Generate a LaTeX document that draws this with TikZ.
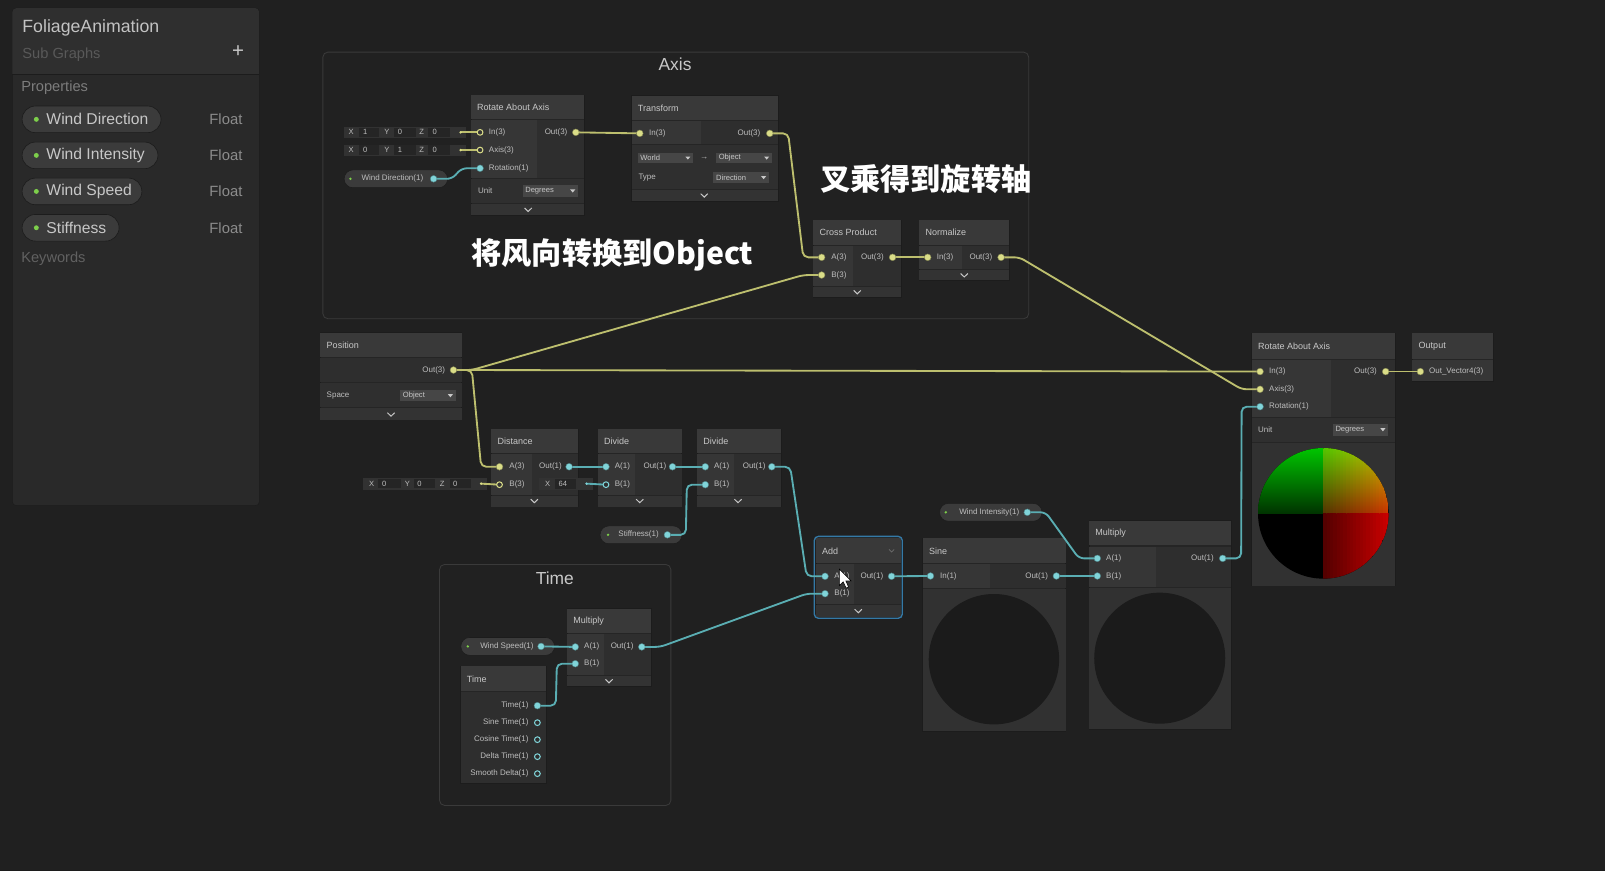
\documentclass[tikz,border=0pt]{standalone}
\usepackage{fontspec}
\setmainfont{Liberation Sans}
\newfontfamily\cjkfont{Noto Sans CJK SC}
\usetikzlibrary{calc}
\pgfdeclarelayer{back}
\pgfdeclarelayer{wire}
\pgfsetlayers{back,wire,main}
\definecolor{canvas}{HTML}{202020}
\definecolor{grpfill}{HTML}{212121}
\definecolor{grpline}{HTML}{3A3A3A}
\definecolor{panel}{HTML}{292929}
\definecolor{panelhdr}{HTML}{2F2F2F}
\definecolor{colbody}{HTML}{252525}
\definecolor{colline}{HTML}{1C1C1C}
\definecolor{hdrc}{HTML}{393939}
\definecolor{colin}{HTML}{363636}
\definecolor{colout}{HTML}{2E2E2E}
\definecolor{colctl}{HTML}{2F2F2F}
\definecolor{colbot}{HTML}{333333}
\definecolor{colprev}{HTML}{313131}
\definecolor{prevcirc}{HTML}{1B1B1B}
\definecolor{ddc}{HTML}{464646}
\definecolor{fieldc}{HTML}{252525}
\definecolor{ilc}{HTML}{323232}
\definecolor{pillc}{HTML}{3B3B3B}
\definecolor{txhead}{HTML}{C8C8C8}
\definecolor{txport}{HTML}{BEBEBE}
\definecolor{txdim}{HTML}{8C8C8C}
\definecolor{portY}{HTML}{DADD88}
\definecolor{portC}{HTML}{80D4D9}
\definecolor{wireY}{HTML}{BDBF6E}
\definecolor{wireC}{HTML}{5AAEB3}
\definecolor{greendot}{HTML}{7DCF4B}
\definecolor{selc}{HTML}{3479A6}
\definecolor{qgA}{rgb}{0,0.78,0}
\definecolor{qgB}{rgb}{0,0.2,0}
\tikzset{
  nbox/.style={fill=colbody, draw=colline, line width=0.5pt, inner sep=0, outer sep=0},
  grp/.style={fill=grpfill, draw=grpline, line width=0.8pt, rounded corners=5pt, inner sep=0},
  grptitle/.style={inner sep=0, text=txhead, font=\fontsize{17}{19}\selectfont},
  hdr/.style={anchor=west, inner sep=0, text=txhead, font=\fontsize{8.8}{10}\selectfont},
  lbl/.style={anchor=west, inner sep=0, text=txport, font=\fontsize{7.8}{9}\selectfont},
  lblr/.style={lbl, anchor=east},
  ddtext/.style={anchor=west, inner sep=0, text=txhead, font=\fontsize{7.4}{8}\selectfont},
  iltext/.style={inner sep=0, text=txport, font=\fontsize{7.4}{8}\selectfont},
  chevst/.style={draw=txhead, line width=1pt},
  pY/.style={circle, fill=portY, draw=portY!60!black, line width=0.4pt, minimum size=6.6pt, inner sep=0},
  pC/.style={pY, fill=portC, draw=portC!60!black},
  hY/.style={circle, draw=portY, fill=colin, line width=1pt, minimum size=5.6pt, inner sep=0},
  hC/.style={hY, draw=portC, fill=colout},
  dotY/.style={circle, fill=portY, minimum size=2.6pt, inner sep=0},
  dotC/.style={dotY, fill=portC},
  wY/.style={draw=wireY, line width=1.8pt, rounded corners=5pt},
  wC/.style={draw=wireC, line width=1.8pt, rounded corners=5pt},
  ulink/.style={to path={-- ++(18pt,0) -- ([xshift=-18pt]\tikztotarget) -- (\tikztotarget)}},
  gpill/.style={fill=pillc, draw=colline, line width=0.5pt, rounded corners=8.5pt, minimum height=17.4pt, inner sep=0, anchor=west},
  bbpill/.style={fill=pillc, draw=colline, line width=0.6pt, rounded corners=13pt, minimum height=26pt, inner sep=0, anchor=west},
  bbtext/.style={anchor=west, inner sep=0, text=txhead, font=\fontsize{15.3}{17}\selectfont},
  bbfloat/.style={anchor=east, inner sep=0, text=txdim, font=\fontsize{14.5}{16}\selectfont},
  bbdim/.style={anchor=west, inner sep=0, font=\fontsize{14.3}{16}\selectfont},
  cjkt/.style={anchor=west, inner sep=0, text=white, font=\cjkfont\fontsize{29.5}{32}\selectfont\bfseries},
}
\newcommand\ubox[5]{\node[nbox, anchor=north west, minimum width=#4pt, minimum height=#5pt] (#1) at (#2,#3) {};}
\newcommand\uhead[6]{%
  \fill[hdrc] (#2,#3) rectangle (#4,#5-0.5);
  \pgfmathsetmacro\hdy{(#3+#5)/2}%
  \node[hdr] (#1-t) at (#2+6,\hdy) {#6};}
\newcommand\dropd[6]{%
  \fill[ddc] (#2,#3) rectangle (#4,#5);
  \pgfmathsetmacro\ddy{(#3+#5)/2}%
  \node[ddtext] (#1) at (#2+2.5,\ddy) {#6};
  \fill[txhead] (#4-7.5,\ddy-1.4) -- (#4-2.5,\ddy-1.4) -- (#4-5,\ddy+1.6) -- cycle;}
\newcommand\chev[2]{\draw[chevst] (#1-3.5,#2-1.8) -- (#1,#2+1.6) -- (#1+3.5,#2-1.8);}
\begin{document}
\begin{tikzpicture}[x=1pt,y=-1pt]
\useasboundingbox (0,0) rectangle (1568,851);
\begin{pgfonlayer}{back}
\fill[canvas] (0,0) rectangle (1568,851);
\fill[colline] (0,849.8) rectangle (1568,851);
% ---------------- blackboard
\node[nbox, fill=panel, rounded corners=4pt, anchor=north west, minimum width=241.5pt, minimum height=486pt] (bb) at (12,8) {};
\begin{scope}
\clip[rounded corners=4pt] (12,8) rectangle (253.5,494);
\fill[panelhdr] (12,8) rectangle (253.5,72.3);
\end{scope}
\draw[colline, line width=0.8pt] (12,72.5) -- (253.5,72.5);
\node[anchor=west, inner sep=0, text=txhead!110, font=\fontsize{17.3}{19}\selectfont] (bb-title) at (21.7,27) {FoliageAnimation};
\node[bbdim, text=black!60!canvas!70!white] (bb-sub) at (21.7,53.7) {\textcolor[HTML]{595959}{Sub Graphs}};
\node[inner sep=0, text=txhead, font=\fontsize{20}{22}\selectfont] (bb-plus) at (232.5,50.5) {+};
\node[bbdim, text=txdim!85!canvas] (bb-prop) at (20.6,85.3) {Properties};
\node[bbpill, minimum width=135.7pt] (bbp1) at (21.3,116.6) {};
\node[bbpill, minimum width=132.7pt] (bbp2) at (21.3,151.8) {};
\node[bbpill, minimum width=117pt] (bbp3) at (21.3,187) {};
\node[bbpill, minimum width=94.7pt] (bbp4) at (21.3,222.5) {};
\foreach \yy in {116.6,151.8,187,222.5} {\fill[greendot] (35.5,\yy) circle (2.4pt);}
\node[bbtext] (bbt1) at (45.2,116.6) {Wind Direction};
\node[bbtext] (bbt2) at (45.2,151.8) {Wind Intensity};
\node[bbtext] (bbt3) at (45.2,187) {Wind Speed};
\node[bbtext] (bbt4) at (45.2,222.5) {Stiffness};
\node[bbfloat] (bbf1) at (237,116.6) {Float};
\node[bbfloat] (bbf2) at (237,151.8) {Float};
\node[bbfloat] (bbf3) at (237,187) {Float};
\node[bbfloat] (bbf4) at (237,222.5) {Float};
\node[bbdim, text=txdim!60!canvas] (bb-key) at (20.6,252.4) {Keywords};
% ---------------- groups
\node[grp, anchor=north west, minimum width=689.6pt, minimum height=260.5pt] (g-axis) at (315,50.5) {};
\node[grptitle] (g-axis-t) at (659.5,63) {Axis};
\node[grp, anchor=north west, minimum width=226pt, minimum height=235.5pt] (g-time) at (429,551) {};
\node[grptitle] (g-time-t) at (542,565) {Time};
% ---------------- Rotate About Axis (top)
\ubox{ra1}{460}{93}{111}{117}
\uhead{ra1}{460}{93}{571}{117}{Rotate About Axis}
\fill[colin] (460,117.5) rectangle (524.5,174);
\fill[colout] (524.5,117.5) rectangle (571,174);
\fill[colctl] (460,175) rectangle (571,198);
\fill[colbot] (460,199) rectangle (571,210);
\node[lbl] (ra1-unit) at (467,186.6) {Unit};
\dropd{ra1-dd}{510.5}{181}{564.5}{192}{Degrees}
\chev{516}{205}
\node[lbl] (ra1-l1) at (477.5,129.3) {In(3)};
\node[lbl] (ra1-l2) at (477.5,146.8) {Axis(3)};
\node[lbl] (ra1-l3) at (477.5,164.4) {Rotation(1)};
\node[lblr] (ra1-l4) at (554.5,129.3) {Out(3)};
% inline inputs
\fill[ilc] (336,124) rectangle (455.5,135);
\fill[ilc] (336,141.2) rectangle (455.5,152.2);
\foreach \yy in {129.3,146.6} {
  \fill[fieldc] (350.5,\yy-4.5) rectangle (370,\yy+4.5);
  \fill[fieldc] (384.5,\yy-4.5) rectangle (406,\yy+4.5);
  \fill[fieldc] (418.5,\yy-4.5) rectangle (440,\yy+4.5);
}
\node[iltext] (il1-x) at (343,129.3) {X};
\node[iltext] (il1-y) at (378,129.3) {Y};
\node[iltext] (il1-z) at (412,129.3) {Z};
\node[iltext, anchor=west] (il1-vx) at (354.5,129.3) {1};
\node[iltext, anchor=west] (il1-vy) at (388.5,129.3) {0};
\node[iltext, anchor=west] (il1-vz) at (422.5,129.3) {0};
\node[iltext] (il2-x) at (343,146.6) {X};
\node[iltext] (il2-y) at (378,146.6) {Y};
\node[iltext] (il2-z) at (412,146.6) {Z};
\node[iltext, anchor=west] (il2-vx) at (354.5,146.6) {0};
\node[iltext, anchor=west] (il2-vy) at (388.5,146.6) {1};
\node[iltext, anchor=west] (il2-vz) at (422.5,146.6) {0};
% ---------------- Transform
\ubox{tf}{617}{93.5}{143}{103}
\uhead{tf}{617}{93.5}{760}{118}{Transform}
\fill[colin] (617,118.5) rectangle (685,140.5);
\fill[colout] (685,118.5) rectangle (760,140.5);
\fill[colctl] (617,141.5) rectangle (760,185);
\fill[colbot] (617,186) rectangle (760,196.5);
\dropd{tf-dd1}{623}{149}{677}{159.6}{World}
\node[inner sep=0, text=txport, font=\fontsize{8}{9}\selectfont] (tf-arr) at (688,154.4) {→};
\dropd{tf-dd2}{699.5}{149}{754}{159.6}{Object}
\node[lbl] (tf-type) at (623.6,173.2) {Type};
\dropd{tf-dd3}{697}{168}{751}{179}{Direction}
\chev{688}{191}
\node[lbl] (tf-l1) at (634,130.3) {In(3)};
\node[lblr] (tf-l2) at (743,130.3) {Out(3)};
% ---------------- Cross Product
\ubox{cp}{794.6}{215}{85.7}{75.5}
\uhead{cp}{794.6}{215}{880.3}{239.4}{Cross Product}
\fill[colin] (794.6,239.9) rectangle (833.6,279.4);
\fill[colout] (833.6,239.9) rectangle (880.3,279.4);
\fill[colbot] (794.6,280.4) rectangle (880.3,290.5);
\chev{837.5}{285.5}
\node[lbl] (cp-l1) at (812,251.4) {A(3)};
\node[lbl] (cp-l2) at (812,268.7) {B(3)};
\node[lblr] (cp-l3) at (863.5,251.4) {Out(3)};
% ---------------- Normalize
\ubox{nm}{898}{215}{87.7}{59}
\uhead{nm}{898}{215}{985.7}{239.4}{Normalize}
\fill[colin] (898,239.9) rectangle (939.5,263);
\fill[colout] (939.5,239.9) rectangle (985.7,263);
\fill[colbot] (898,264) rectangle (985.7,274);
\chev{942}{269}
\node[lbl] (nm-l1) at (915,251.4) {In(3)};
\node[lblr] (nm-l2) at (969.5,251.4) {Out(3)};
% ---------------- Position
\ubox{pos}{313}{325}{138}{85}
\uhead{pos}{313}{325}{451}{349}{Position}
\fill[colout] (313,349.5) rectangle (451,373.5);
\fill[colctl] (313,374.5) rectangle (451,398);
\fill[colbot] (313,399) rectangle (451,410);
\node[lbl] (pos-space) at (319,386) {Space};
\dropd{pos-dd}{391}{381}{445}{392}{Object}
\chev{382}{405}
\node[lblr] (pos-l1) at (435,361.5) {Out(3)};
% ---------------- Distance
\ubox{dist}{480}{419}{85}{76}
\uhead{dist}{480}{419}{565}{443}{Distance}
\fill[colin] (480,443.5) rectangle (520,483.5);
\fill[colout] (520,443.5) rectangle (565,483.5);
\fill[colbot] (480,484.5) rectangle (565,495);
\chev{522}{489.5}
\node[lbl] (dist-l1) at (497.5,456) {A(3)};
\node[lbl] (dist-l2) at (497.5,473.5) {B(3)};
\node[lblr] (dist-l3) at (549,456) {Out(1)};
\fill[ilc] (355,466.5) rectangle (476,478.5);
\fill[fieldc] (369.5,468) rectangle (392,477);
\fill[fieldc] (404.5,468) rectangle (425,477);
\fill[fieldc] (439.5,468) rectangle (460,477);
\node[iltext] (il3-x) at (363,472.5) {X};
\node[iltext] (il3-y) at (398,472.5) {Y};
\node[iltext] (il3-z) at (432,472.5) {Z};
\node[iltext, anchor=west] (il3-vx) at (373,472.5) {0};
\node[iltext, anchor=west] (il3-vy) at (407.5,472.5) {0};
\node[iltext, anchor=west] (il3-vz) at (442.5,472.5) {0};
% ---------------- Divide 1
\ubox{div1}{584}{419}{82}{76}
\uhead{div1}{584}{419}{666}{443}{Divide}
\fill[colin] (584,443.5) rectangle (620,483.5);
\fill[colout] (620,443.5) rectangle (666,483.5);
\fill[colbot] (584,484.5) rectangle (666,495);
\chev{625}{489.5}
\node[lbl] (div1-l1) at (600.5,456) {A(1)};
\node[lbl] (div1-l2) at (600.5,473.5) {B(1)};
\node[lblr] (div1-l3) at (651,456) {Out(1)};
\fill[ilc] (527,466.5) rectangle (579,479);
\fill[fieldc] (542.5,468) rectangle (563,477.5);
\node[iltext] (il4-x) at (535,472.5) {X};
\node[iltext, anchor=west] (il4-v) at (545.5,472.5) {64};
% ---------------- Divide 2
\ubox{div2}{681}{419}{82}{76}
\uhead{div2}{681}{419}{763}{443}{Divide}
\fill[colin] (681,443.5) rectangle (717,483.5);
\fill[colout] (717,443.5) rectangle (763,483.5);
\fill[colbot] (681,484.5) rectangle (763,495);
\chev{721}{489.5}
\node[lbl] (div2-l1) at (697.5,456) {A(1)};
\node[lbl] (div2-l2) at (697.5,473.5) {B(1)};
\node[lblr] (div2-l3) at (748,456) {Out(1)};
% ---------------- Add
\ubox{add}{797}{525.7}{83}{76.8}
\uhead{add}{797}{525.7}{880}{550.7}{Add}
\fill[colin] (797,551.2) rectangle (834,590.5);
\fill[colout] (834,551.2) rectangle (880,590.5);
\fill[colbot] (797,591.5) rectangle (880,602.5);
\chev{838.5}{597}
\draw[draw=txdim!70!canvas, line width=0.7pt] (868.5,536.8) -- (871,539.3) -- (873.5,536.8);
\draw[selc, line width=1.3pt, rounded corners=4pt] (795.5,524) rectangle (881.5,604);
\node[lbl] (add-l1) at (815,563) {A(1)};
\node[lbl] (add-l2) at (815,580) {B(1)};
\node[lblr] (add-l3) at (863,563) {Out(1)};
% ---------------- Sine
\ubox{sine}{901.4}{526}{139.6}{188}
\uhead{sine}{901.4}{526}{1041}{550.4}{Sine}
\fill[colin] (901.4,550.9) rectangle (967,574);
\fill[colout] (967,550.9) rectangle (1041,574);
\fill[colprev] (901.4,575) rectangle (1041,714);
\fill[prevcirc] (971,644) circle (63.7pt);
\node[lbl] (sine-l1) at (918.3,562.7) {In(1)};
\node[lblr] (sine-l2) at (1024,562.7) {Out(1)};
% ---------------- Multiply (right)
\ubox{mul2}{1064}{508.7}{139}{203.8}
\uhead{mul2}{1064}{508.7}{1203}{533.4}{Multiply}
\fill[colin] (1064,533.9) rectangle (1129.7,573);
\fill[colout] (1129.7,533.9) rectangle (1203,573);
\fill[colprev] (1064,574) rectangle (1203,712.5);
\fill[prevcirc] (1133,643) circle (64pt);
\node[lbl] (mul2-l1) at (1080.5,545.5) {A(1)};
\node[lbl] (mul2-l2) at (1080.5,562.7) {B(1)};
\node[lblr] (mul2-l3) at (1186,545.5) {Out(1)};
% ---------------- Rotate About Axis (right)
\ubox{ra2}{1222.8}{325.6}{140.1}{246.4}
\uhead{ra2}{1222.8}{325.6}{1362.9}{351}{Rotate About Axis}
\fill[colin] (1222.8,351.5) rectangle (1300,407);
\fill[colout] (1300,351.5) rectangle (1362.9,407);
\fill[colctl] (1222.8,408) rectangle (1362.9,432);
\fill[colprev] (1222.8,433) rectangle (1362.9,572);
\node[lbl] (ra2-unit) at (1229,420) {Unit};
\dropd{ra2-dd}{1302}{414}{1356}{425.5}{Degrees}
\node[lbl] (ra2-l1) at (1239.7,363) {In(3)};
\node[lbl] (ra2-l2) at (1239.7,380.3) {Axis(3)};
\node[lbl] (ra2-l3) at (1239.7,397.3) {Rotation(1)};
\node[lblr] (ra2-l4) at (1345.3,363) {Out(3)};
\begin{scope}
\clip (1292.8,501.5) circle (63.8pt);
\fill[black] (1228,436.7) rectangle (1357.6,566.3);
\shade[top color=qgA, bottom color=qgB] (1228,436.7) rectangle (1292.8,501.5);
\foreach \i in {0,...,19} {
  \pgfmathsetmacro\rrv{0.32+0.48*(\i+0.5)/20}
  \pgfmathsetmacro\xa{1292.8+\i*64.8/20}
  \pgfmathsetmacro\xb{\xa+64.8/20+0.4}
  \definecolor{qa}{rgb}{\rrv,0.78,0}
  \definecolor{qb}{rgb}{\rrv,0.2,0}
  \definecolor{qc}{rgb}{\rrv,0,0}
  \shade[top color=qa, bottom color=qb] (\xa,436.7) rectangle (\xb,501.5);
  \fill[qc] (\xa,501.5) rectangle (\xb,566.3);
}
\end{scope}
% ---------------- Output
\ubox{outn}{1379.8}{325.6}{79.2}{46.4}
\uhead{outn}{1379.8}{325.6}{1459}{351}{Output}
\fill[colin] (1379.8,351.5) rectangle (1459,372);
\node[lbl] (outn-l1) at (1396,363) {Out\_Vector4(3)};
% ---------------- Multiply (time)
\ubox{mul1}{554}{594.6}{82}{75.9}
\uhead{mul1}{554}{594.6}{636}{618.7}{Multiply}
\fill[colin] (554,619.2) rectangle (590,659.5);
\fill[colout] (590,619.2) rectangle (636,659.5);
\fill[colbot] (554,660.5) rectangle (636,670.5);
\chev{595}{665.5}
\node[lbl] (mul1-l1) at (570.5,632) {A(1)};
\node[lbl] (mul1-l2) at (570.5,648.4) {B(1)};
\node[lblr] (mul1-l3) at (619,632) {Out(1)};
% ---------------- Time
\ubox{timen}{450}{651}{83.5}{114}
\uhead{timen}{450}{651}{533.5}{675.7}{Time}
\fill[colout] (450,676.2) rectangle (533.5,765);
\node[lblr] (time-l1) at (516.5,689.4) {Time(1)};
\node[lblr] (time-l2) at (516.5,706) {Sine Time(1)};
\node[lblr] (time-l3) at (516.5,722.6) {Cosine Time(1)};
\node[lblr] (time-l4) at (516.5,739.2) {Delta Time(1)};
\node[lblr] (time-l5) at (516.5,755.8) {Smooth Delta(1)};
% ---------------- property pills in graph
\node[gpill, minimum width=101pt] (wd) at (336,174.7) {};
\node[gpill, minimum width=100pt] (wi) at (917.7,500.5) {};
\node[gpill, minimum width=80pt] (st) at (586,522.5) {};
\node[gpill, minimum width=91.5pt] (ws) at (450,631.5) {};
\fill[greendot] (342.4,174.7) circle (1.3pt);
\fill[greendot] (924,500.5) circle (1.3pt);
\fill[greendot] (594,522.5) circle (1.3pt);
\fill[greendot] (457,631.5) circle (1.3pt);
\node[lbl] (wd-t) at (353,174.7) {Wind Direction(1)};
\node[lbl] (wi-t) at (937,500.5) {Wind Intensity(1)};
\node[lbl] (st-t) at (604,522.5) {Stiffness(1)};
\node[lbl] (ws-t) at (469,631.5) {Wind Speed(1)};
\end{pgfonlayer}
% ---------------- ports
\node[hY] (ra1-in) at (469,129.3) {};
\node[hY] (ra1-ax) at (469,146.6) {};
\node[pC] (ra1-rot) at (469,164.4) {};
\node[pY] (ra1-out) at (562.5,129.3) {};
\node[dotY] (il1-d) at (450,129.3) {};
\node[dotY] (il2-d) at (450,146.6) {};
\node[pY] (tf-in) at (625,130.3) {};
\node[pY] (tf-out) at (752,130.3) {};
\node[pY] (cp-a) at (802.7,251.4) {};
\node[pY] (cp-b) at (802.7,268.7) {};
\node[pY] (cp-out) at (872,251.4) {};
\node[pY] (nm-in) at (906.3,251.4) {};
\node[pY] (nm-out) at (978,251.4) {};
\node[pY] (pos-out) at (443,361.5) {};
\node[pY] (dist-a) at (488,456) {};
\node[hY] (dist-b) at (488,473.5) {};
\node[pC] (dist-out) at (556,456) {};
\node[dotY] (il3-d) at (470,472.5) {};
\node[pC] (div1-a) at (592,456) {};
\node[hC] (div1-b) at (592,473.5) {};
\node[pC] (div1-out) at (657,456) {};
\node[dotC] (il4-d) at (573,472.5) {};
\node[pC] (div2-a) at (689,456) {};
\node[pC] (div2-b) at (689,473.5) {};
\node[pC] (div2-out) at (754,456) {};
\node[pC] (add-a) at (806,563) {};
\node[pC] (add-b) at (806,580) {};
\node[pC] (add-out) at (871,563) {};
\node[pC] (sine-in) at (909,562.7) {};
\node[pC] (sine-out) at (1032,562.7) {};
\node[pC] (mul2-a) at (1072,545.5) {};
\node[pC] (mul2-b) at (1072,562.7) {};
\node[pC] (mul2-out) at (1194.5,545.5) {};
\node[pY] (ra2-in) at (1231,363) {};
\node[pY] (ra2-ax) at (1231,380.3) {};
\node[pC] (ra2-rot) at (1231,397.3) {};
\node[pY] (ra2-out) at (1353.7,363) {};
\node[pY] (out-in) at (1387.6,363) {};
\node[pC] (mul1-a) at (562,632) {};
\node[pC] (mul1-b) at (562,648.4) {};
\node[pC] (mul1-out) at (627,632) {};
\node[pC] (time-1) at (525,689.4) {};
\node[hC] (time-2) at (525,706) {};
\node[hC] (time-3) at (525,722.6) {};
\node[hC] (time-4) at (525,739.2) {};
\node[hC] (time-5) at (525,755.8) {};
\node[pC] (wd-p) at (423.6,174.7) {};
\node[pC] (wi-p) at (1003.6,500.5) {};
\node[pC] (st-p) at (652,522.5) {};
\node[pC] (ws-p) at (528.6,631.5) {};
% ---------------- wires
\begin{pgfonlayer}{wire}
\draw[wY] (ra1-out.center) -- (tf-in.center);
\draw[wY] (tf-out.center) to[ulink] (cp-a.center);
\draw[wY] (cp-out.center) -- (nm-in.center);
\draw[wY] (nm-out.center) to[ulink] (ra2-ax.center);
\draw[wY] (pos-out.center) to[ulink] (cp-b.center);
\draw[wY] (pos-out.center) to[ulink] (ra2-in.center);
\draw[wY] (pos-out.center) to[ulink] (dist-a.center);
\draw[wY] (il1-d.center) -- (ra1-in.center);
\draw[wY] (il2-d.center) -- (ra1-ax.center);
\draw[wY] (il3-d.center) -- (dist-b.center);
\draw[wY] (ra2-out.center) -- (out-in.center);
\draw[wC] (wd-p.center) to[ulink] (ra1-rot.center);
\draw[wC] (dist-out.center) -- (div1-a.center);
\draw[wC] (il4-d.center) -- (div1-b.center);
\draw[wC] (div1-out.center) -- (div2-a.center);
\draw[wC] (st-p.center) to[ulink] (div2-b.center);
\draw[wC] (div2-out.center) to[ulink] (add-a.center);
\draw[wC] (ws-p.center) -- (mul1-a.center);
\draw[wC] (time-1.center) to[ulink] (mul1-b.center);
\draw[wC] (mul1-out.center) to[ulink] (add-b.center);
\draw[wC] (add-out.center) -- (sine-in.center);
\draw[wC] (sine-out.center) -- (mul2-b.center);
\draw[wC] (wi-p.center) to[ulink] (mul2-a.center);
\draw[wC] (mul2-out.center) to[ulink] (ra2-rot.center);
\end{pgfonlayer}
% ---------------- annotations
\node[cjkt] (note1) at (460.5,249) {将风向转换到Object};
\node[cjkt] (note2) at (801,175) {叉乘得到旋转轴};
% mouse cursor
\filldraw[fill=white, draw=black, line width=0.6pt] (820,556) -- (820,572) -- (823.8,568.5) -- (826.5,574.5) -- (829,573.4) -- (826.4,567.5) -- (831.5,567.5) -- cycle;
\end{tikzpicture}
\end{document}
